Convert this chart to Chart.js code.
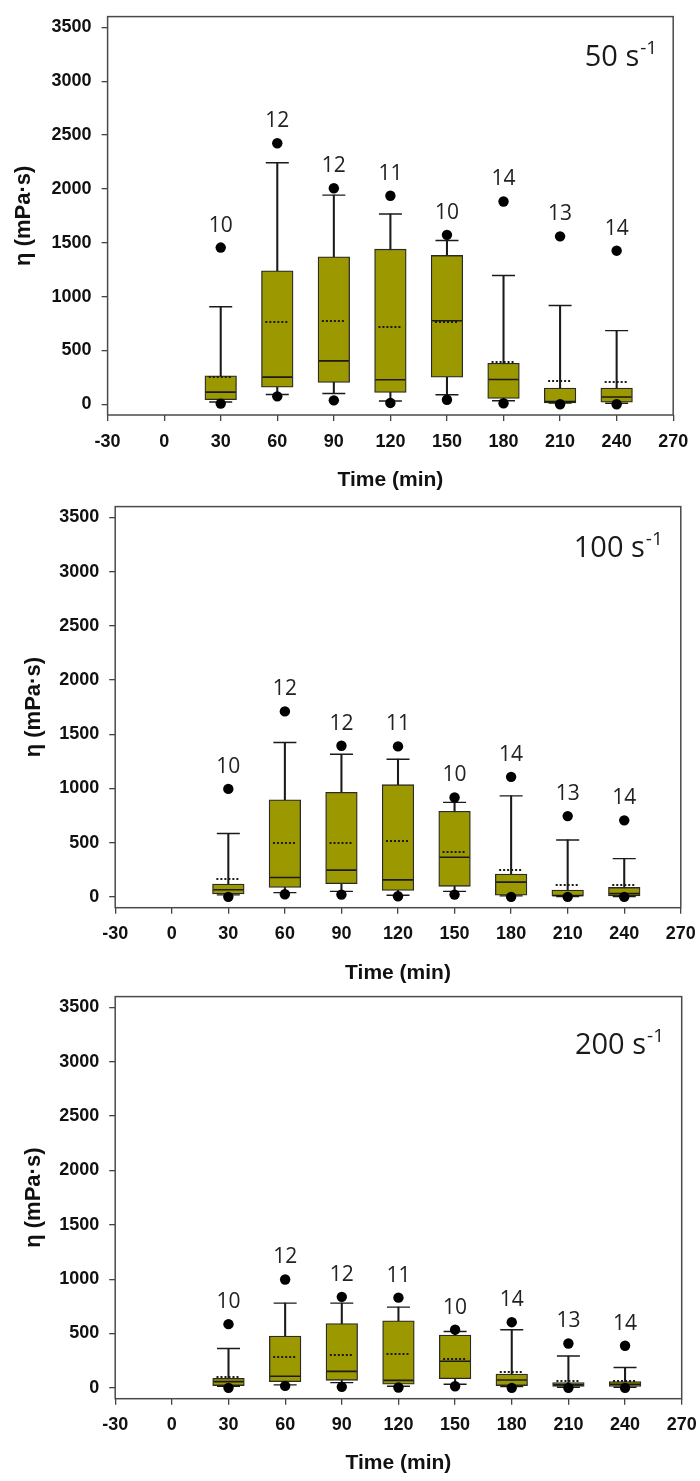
<!DOCTYPE html>
<html>
<head>
<meta charset="utf-8">
<script src="https://cdn.jsdelivr.net/npm/chart.js@4.4.0/dist/chart.umd.min.js"></script>
<style>
  body { margin: 0; background: #fff; width: 700px; height: 1481px; position: relative; overflow: hidden; }
  canvas { position: absolute; left: 0; }
</style>
</head>
<body>
<canvas id="c1" width="700" height="500" style="top:0px"></canvas>
<canvas id="c2" width="700" height="500" style="top:490px"></canvas>
<canvas id="c3" width="700" height="501" style="top:980px"></canvas>
<script>
const times = [30, 60, 90, 120, 150, 180, 210, 240];
const counts = [10, 12, 12, 11, 10, 14, 13, 14];
const xTicks = [-30, 0, 30, 60, 90, 120, 150, 180, 210, 240, 270];
const yTicks = [0, 500, 1000, 1500, 2000, 2500, 3000, 3500];

// 50 s-1
const capLo50 = [21, 91, 100, 30, 88, 33, 10, 9];
const q1_50 = [42, 158, 203, 109, 252, 54, 12, 18];
const med50 = [112, 252, 403, 227, 776, 230, 24, 67];
const q3_50 = [264, 1239, 1370, 1440, 1382, 381, 151, 151];
const capHi50 = [906, 2242, 1942, 1767, 1521, 1196, 917, 684];
const mean50 = [252, 761, 776, 715, 766, 394, 218, 203];
const dotLo50 = [6, 73, 36, 12, 42, 9, 0, 0];
const dotHi50 = [1455, 2424, 2006, 1936, 1573, 1883, 1559, 1426];

// 100 s-1
const capLo100 = [18, 39, 51, 15, 51, 9, 3, 3];
const q1_100 = [27, 87, 121, 60, 97, 15, 6, 9];
const med100 = [66, 178, 247, 157, 365, 136, 12, 30];
const q3_100 = [118, 896, 965, 1035, 790, 211, 63, 87];
const capHi100 = [585, 1424, 1315, 1270, 872, 932, 525, 353];
const mean100 = [166, 498, 501, 513, 416, 247, 106, 106];
const dotLo100 = [0, 24, 21, 6, 21, 0, 0, 0];
const dotHi100 = [996, 1711, 1394, 1388, 917, 1107, 745, 706];

// 200 s-1
const capLo200 = [15, 27, 48, 15, 33, 12, 5, 5];
const q1_200 = [21, 57, 69, 33, 85, 21, 12, 12];
const med200 = [57, 106, 151, 69, 245, 72, 27, 33];
const q3_200 = [88, 477, 592, 616, 486, 127, 48, 57];
const capHi200 = [362, 779, 779, 743, 519, 535, 293, 187];
const mean200 = [103, 284, 299, 311, 263, 148, 66, 66];
const dotLo200 = [0, 18, 9, 3, 15, 0, 0, 0];
const dotHi200 = [586, 997, 837, 830, 535, 604, 408, 387];

const OLIVE = '#9c9900';
const INK = '#1a1a1a';

// small dotted stroke used as point image for the mean
function dottedLine(w) {
  const c = document.createElement('canvas');
  c.width = w; c.height = 2;
  const g = c.getContext('2d');
  g.fillStyle = INK;
  for (let px = 1; px < w - 1; px += 4) g.fillRect(px, 0, 2, 2);
  return c;
}
const meanMark = dottedLine(26);

const extras = {
  id: 'extras',
  afterDatasetsDraw(chart, args, o) {
    const { ctx, chartArea: a, scales: { x, y } } = chart;
    ctx.save();
    ctx.strokeStyle = '#4a4a4a';
    ctx.lineWidth = 1.5;
    ctx.strokeRect(a.left, a.top, a.right - a.left, a.bottom - a.top);

    ctx.fillStyle = '#222';
    ctx.font = '21px "Open Sans"';
    ctx.textAlign = 'center';
    ctx.textBaseline = 'alphabetic';
    times.forEach((t, i) => {
      ctx.fillText(String(counts[i]), x.getPixelForValue(t), y.getPixelForValue(o.top[i]) - 16);
    });

    // shear rate label, right aligned
    const rx = a.right - o.rateRight;
    const by = a.top + o.rateBase;
    ctx.fillStyle = INK;
    ctx.textAlign = 'right';
    ctx.font = '19px "Open Sans"';
    ctx.fillText('-1', rx, by - 12);
    const sw = ctx.measureText('-1').width;
    ctx.font = '29px "Open Sans"';
    ctx.fillText(o.rate + ' s', rx - sw - 1, by);
    ctx.restore();
  }
};

function pts(arr) { return times.map((t, i) => ({ x: t, y: arr[i] })); }
function spans(lo, hi) { return times.map((t, i) => ({ x: t, y: [lo[i], hi[i]] })); }

function makeChart(id, s, p) {
  const H = document.getElementById(id).height;
  const tickFont = { family: 'Liberation Sans', weight: 'bold', size: 18 };
  const grid = { drawOnChartArea: false, drawTicks: true, tickLength: 6, tickColor: '#444', lineWidth: 1.3, offset: false };
  return new Chart(document.getElementById(id), {
    type: 'scatter',
    data: {
      datasets: [
        { type: 'scatter', data: pts(s.dotLo).concat(pts(s.dotHi)), pointStyle: 'circle', radius: 5.2,
          backgroundColor: '#000', borderWidth: 0, order: 1 },
        { type: 'scatter', data: pts(s.capLo).concat(pts(s.capHi)), pointStyle: 'line', radius: 11.5,
          borderColor: INK, borderWidth: 1.4, order: 2 },
        { type: 'scatter', data: pts(s.med), pointStyle: 'line', radius: 15, borderColor: INK, borderWidth: 1.6, order: 2 },
        { type: 'scatter', data: pts(s.mean), pointStyle: meanMark, radius: 10, order: 2 },
        { type: 'bar', data: spans(s.q1, s.q3), backgroundColor: OLIVE, borderColor: '#2a2a2a', borderWidth: 1.3,
          borderSkipped: false, barThickness: 31.6, grouped: false, order: 3 },
        { type: 'bar', data: spans(s.capLo, s.capHi), backgroundColor: INK, borderWidth: 0,
          barThickness: 1.4, grouped: false, order: 4 }
      ]
    },
    options: {
      responsive: false,
      animation: false,
      events: [],
      layout: { padding: { top: p.T, right: 700 - p.R, left: 0, bottom: 0 } },
      plugins: {
        legend: { display: false },
        tooltip: { enabled: false },
        extras: { top: s.dotHi, rate: s.rate, rateRight: p.rateRight, rateBase: p.rateBase }
      },
      scales: {
        x: {
          type: 'linear', min: -30, max: 270, offset: false,
          afterBuildTicks: sc => { sc.ticks = xTicks.map(v => ({ value: v })); },
          afterFit: sc => { sc.height = H - p.B; sc.paddingLeft = 0; sc.paddingRight = 0; },
          grid: grid,
          border: { display: false },
          ticks: { font: tickFont, color: '#111', padding: 10, maxRotation: 0, autoSkip: false, callback: v => String(v) },
          title: { display: true, text: 'Time (min)', color: '#111',
            font: { family: 'Liberation Sans', weight: 'bold', size: 21, lineHeight: 1 },
            padding: { top: 0, bottom: H - p.xTitleY - 10.5 } }
        },
        y: {
          type: 'linear', min: -100, max: 3600, offset: false,
          afterBuildTicks: sc => { sc.ticks = yTicks.map(v => ({ value: v })); },
          afterFit: sc => { sc.width = p.L; sc.paddingTop = 0; sc.paddingBottom = 0; },
          grid: grid,
          border: { display: false },
          ticks: { font: tickFont, color: '#111', padding: 10, callback: v => String(v) },
          title: { display: true, text: 'η (mPa·s)', color: '#111',
            font: { family: 'Liberation Sans', weight: 'bold', size: 22, lineHeight: 1 },
            padding: { top: p.yTitleX - 11, bottom: 0 } }
        }
      }
    },
    plugins: [extras]
  });
}

makeChart('c1',
  { rate: '50', capLo: capLo50, q1: q1_50, med: med50, q3: q3_50, capHi: capHi50, mean: mean50, dotLo: dotLo50, dotHi: dotHi50 },
  { L: 107.6, R: 673.2, T: 8.3, B: 415, yTitleX: 24, xTitleY: 480, rateRight: 16, rateBase: 49 });
makeChart('c2',
  { rate: '100', capLo: capLo100, q1: q1_100, med: med100, q3: q3_100, capHi: capHi100, mean: mean100, dotLo: dotLo100, dotHi: dotHi100 },
  { L: 115.2, R: 680.8, T: 11, B: 417.7, yTitleX: 33.5, xTitleY: 483, rateRight: 18, rateBase: 50 });
makeChart('c3',
  { rate: '200', capLo: capLo200, q1: q1_200, med: med200, q3: q3_200, capHi: capHi200, mean: mean200, dotLo: dotLo200, dotHi: dotHi200 },
  { L: 115.2, R: 681.7, T: 13.3, B: 418.7, yTitleX: 33.5, xTitleY: 483, rateRight: 17.7, rateBase: 57 });
</script>
</body>
</html>
